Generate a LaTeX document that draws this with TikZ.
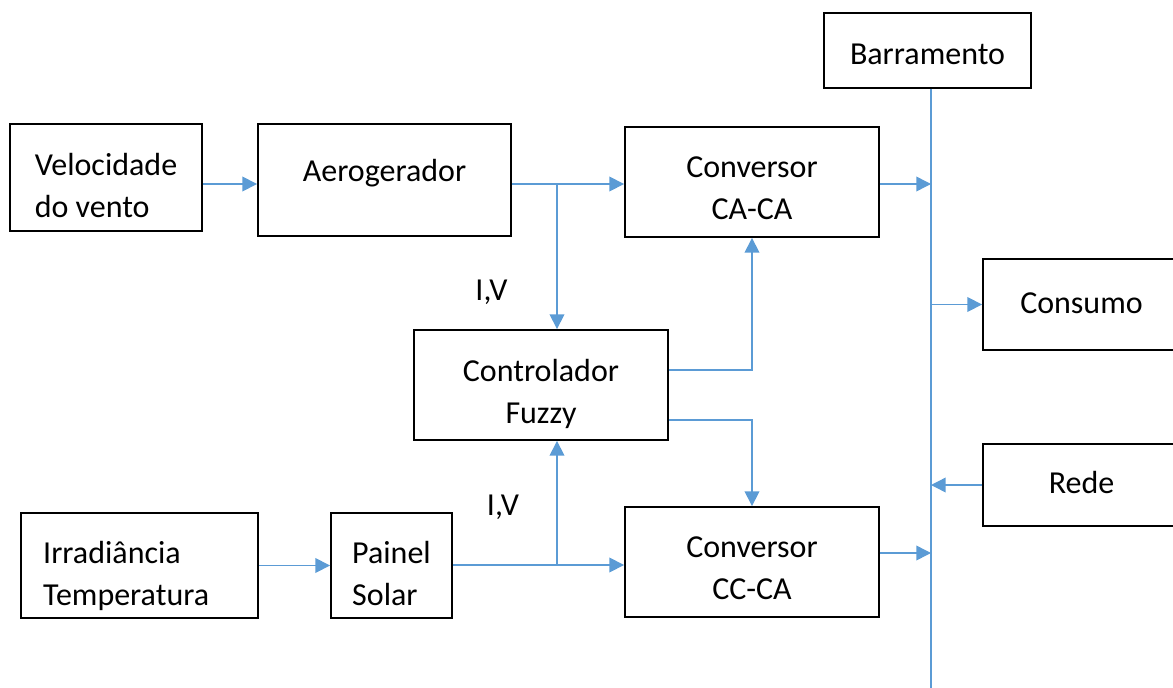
\documentclass[tikz,border=0pt]{standalone}
\usepackage{fontspec}
\setmainfont{Carlito}
\usetikzlibrary{arrows.meta,positioning,calc}
\definecolor{linkblue}{HTML}{5B9BD5}
\newcommand{\btext}[3][c]{\raisebox{#2}[\height][\depth]{\begin{tabular}{@{}#1@{}}#3\end{tabular}}}

\begin{document}
\begin{tikzpicture}[
    x=0.75pt, y=-0.75pt,
    >={Triangle[length=11pt,width=11pt]},
    font=\fontsize{24}{32}\selectfont,
    block/.style={draw=black, line width=1.4pt, fill=white, inner sep=0pt},
    boxsize/.style 2 args={minimum width=#1*0.75pt, minimum height=#2*0.75pt},
    link/.style={draw=linkblue, line width=1.1pt, ->},
    bus/.style={draw=linkblue, line width=1.1pt}
]
\useasboundingbox (0,0) rectangle (1173,688);

% ---- blocks ----
\node[block, boxsize={192}{107}] (velo) at (106,177.5) {\btext[l]{-7.8pt}{Velocidade\\do vento}};
\node[block, boxsize={253}{112}] (aero) at (384.5,180) {\btext{5.3pt}{Aerogerador}};
\node[block, boxsize={254}{110}] (caca) at (752,182) {\btext{-5.9pt}{Conversor\\CA-CA}};
\node[block, boxsize={207}{75}] (barr) at (927.5,50.5) {\btext{-4.4pt}{Barramento}};
\node[block, boxsize={197}{91}] (cons) at (1081.5,304.5) {\btext{0pt}{Consumo}};
\node[block, boxsize={254}{110}] (fuzzy) at (541,385) {\btext{-6.7pt}{Controlador\\Fuzzy}};
\node[block, boxsize={197}{82}] (rede) at (1081.5,485) {\btext{0pt}{Rede}};
\node[block, boxsize={237}{105}] (irr) at (139.5,565.5) {\hspace*{-20pt}\btext[l]{-7.8pt}{Irradiância\\Temperatura}};
\node[block, boxsize={121}{105}] (pain) at (391.5,565.5) {\btext[l]{-7.8pt}{Painel\\Solar}};
\node[block, boxsize={254}{110}] (ccca) at (752,562) {\btext{-5.9pt}{Conversor\\CC-CA}};

% ---- measured values ----
\node[anchor=base] (ivw) at (491.5,300) {I,V};
\node[anchor=base] (ivs) at (503,515) {I,V};

% ---- junctions and bus ----
\coordinate (busend) at (931,700);
\coordinate (jw) at (557,184);
\coordinate (js) at (557,565);
\coordinate (jc) at ([yshift=6.75pt]ccca.east);
\draw[bus] (barr.south -| busend) -- (busend);

% ---- wind branch ----
\draw[link] (velo.east |- jw) -- (aero.west |- jw);
\draw[link] (aero.east |- jw) -- (caca.west |- jw);
\draw[link] (jw) -- (fuzzy.north -| jw);
\draw[link] (caca.east |- jw) -- (busend |- jw);

% ---- solar branch ----
\draw[link] (irr.east) -- (pain.west);
\draw[link] (pain.east |- js) -- (ccca.west |- js);
\draw[link] (js) -- (fuzzy.south -| js);
\draw[link] (jc) -- (busend |- jc);

% ---- control outputs ----
\draw[link] ([yshift=11.25pt]fuzzy.east) -| (caca.south);
\draw[link] ([yshift=-26.25pt]fuzzy.east) -| (ccca.north);

% ---- loads ----
\draw[link] (busend |- cons) -- (cons.west);
\draw[link] (rede.west) -- (busend |- rede);

\end{tikzpicture}
\end{document}
